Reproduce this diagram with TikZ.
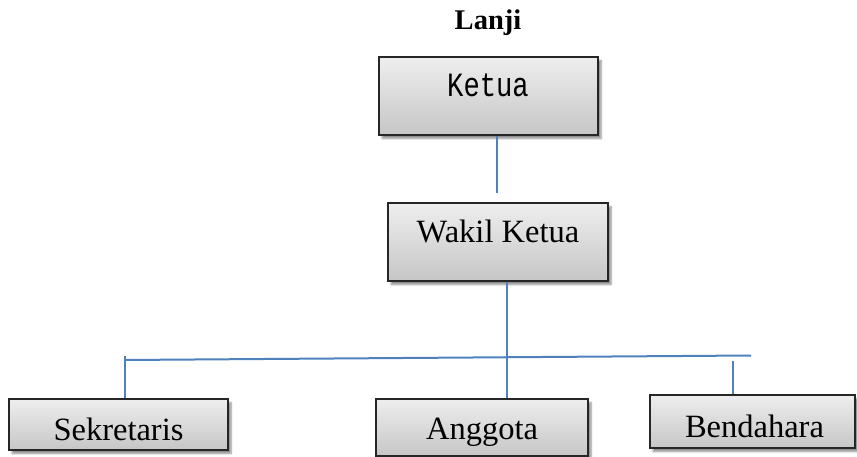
\documentclass[tikz,border=0pt]{standalone}
\usepackage{fontspec}
\setmainfont{Liberation Serif}
\newfontfamily\ketuafont{Liberation Mono}
\usetikzlibrary{shadows.blur}
\definecolor{boxtop}{HTML}{EEEEEE}
\definecolor{boxbot}{HTML}{C6C6C6}
\definecolor{linkblue}{HTML}{4F81BD}
\tikzset{
  orgbox/.style={draw=black!85, line width=1.5pt, rectangle, inner sep=0pt,
    top color=boxtop, bottom color=boxbot,
    blur shadow={shadow xshift=3pt, shadow yshift=-3.5pt, shadow blur steps=6, shadow opacity=45}},
  lbl/.style={inner sep=0pt, anchor=base, font=\fontsize{32.5}{32.5}\selectfont},
  link/.style={draw=linkblue, line width=2pt}
}
\begin{document}
\begin{tikzpicture}[x=1pt,y=-1pt]
\useasboundingbox (0,0) rectangle (857,457);
% title
\node[inner sep=0pt, anchor=base, font=\fontsize{28.5}{28.5}\selectfont\bfseries] (title) at (488,30) {Lanji};
% boxes
\node[orgbox, minimum width=219pt, minimum height=78pt] (ketua) at (488.5,96) {};
\node[lbl, font=\fontsize{34}{34}\selectfont\ketuafont] (ketuat) at (488,97) {\scalebox{0.8}[1]{Ketua}};
\node[orgbox, minimum width=220pt, minimum height=78pt] (wakil) at (498,242) {};
\node[lbl] (wakilt) at (498,243) {Wakil Ketua};
\node[orgbox, minimum width=219pt, minimum height=51pt] (sekretaris) at (118.5,424.5) {};
\node[lbl] (sekretarist) at (118.5,440) {Sekretaris};
\node[orgbox, minimum width=212pt, minimum height=57pt] (anggota) at (482,427.5) {};
\node[lbl] (anggotat) at (482,439) {Anggota};
\node[orgbox, minimum width=205pt, minimum height=53pt] (bendahara) at (752.5,421.5) {};
\node[lbl] (bendaharat) at (754.5,437) {Bendahara};
% connector points
\coordinate (k1) at (497,193);
\coordinate (a1) at (506.5,300);
\coordinate (hl) at (125,360);
\coordinate (hr) at (751,355.5);
\coordinate (s1) at (125,356);
\coordinate (b1) at (733,361);
% connectors
\draw[link] (ketua.south -| k1) -- (k1);
\draw[link] (wakil.south -| a1) -- (anggota.north -| a1);
\draw[link] (hl) -- (hr);
\draw[link] (s1) -- (sekretaris.north -| s1);
\draw[link] (b1) -- (bendahara.north -| b1);
\end{tikzpicture}
\end{document}
